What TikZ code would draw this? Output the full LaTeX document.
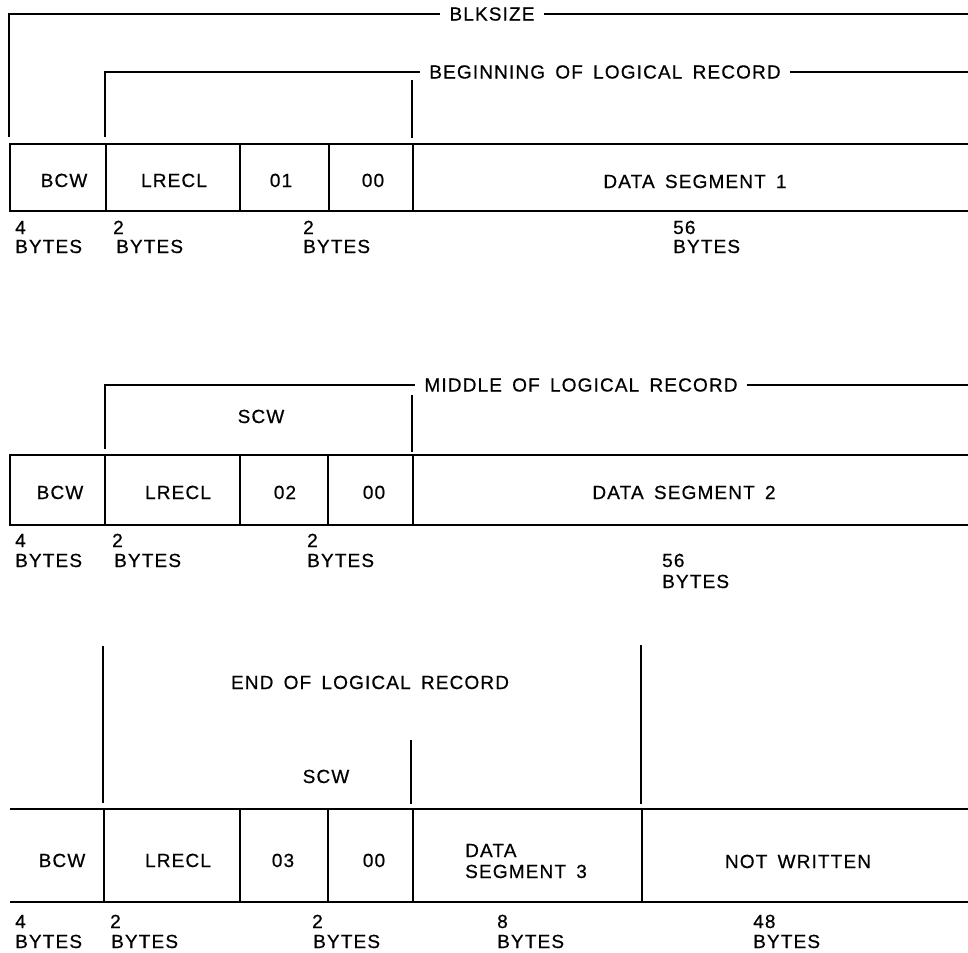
\documentclass[tikz,border=0pt]{standalone}
\usepackage{fontspec}
\setmainfont{Liberation Sans}[LetterSpace=6,WordSpace=1.6,FakeBold=0.6]
\newcommand{\labfont}{\fontsize{19}{22}\selectfont}
\begin{document}
\begin{tikzpicture}[x=1pt,y=-1pt]
\useasboundingbox (0,0) rectangle (968,952);
\tikzset{
  boxline/.style={line width=1.8pt},
  brk/.style={line width=1.5pt},
  txt/.style={font=\labfont, inner sep=0pt, anchor=base},
  txtl/.style={font=\labfont, inner sep=0pt, anchor=base west},
  head/.style={font=\labfont, inner ysep=0pt, inner xsep=9pt, anchor=center}
}
% ---------------- Row 1 ----------------
\node[head] (blk) at (492,14) {BLKSIZE};
\coordinate (blkL) at (9,137);
\coordinate (blkR) at (968,14);
\draw[brk] (blkL) |- (blk.west);
\draw[brk] (blk.east) -- (blkR);
\node[head] (beg) at (605,72) {BEGINNING OF LOGICAL RECORD};
\coordinate (begL) at (105,137);
\coordinate (begR) at (968,72);
\draw[brk] (begL) |- (beg.west);
\draw[brk] (beg.east) -- (begR);
\coordinate (begT1) at (412,80);
\coordinate (begT2) at (412,138);
\draw[brk] (begT1) -- (begT2);
\draw[boxline] (968,144) -- (10,144) -- (10,211) -- (968,211);
\foreach \x in {106,240,329,413} \draw[boxline] (\x,144) -- (\x,211);
\node[txt] (bcwA) at (64,187) {BCW};
\node[txt] (lreclA) at (174,187) {LRECL};
\node[txt] (oneA) at (281,187) {01};
\node[txt] (zeroA) at (373,187) {00};
\node[txt] (dataA) at (695,188) {DATA SEGMENT 1};
\node[txtl] (nA1) at (15,234) {4};
\node[txtl] (bA1) at (15,253) {BYTES};
\node[txtl] (nA2) at (113,234) {2};
\node[txtl] (bA2) at (116,253) {BYTES};
\node[txtl] (nA3) at (303,234) {2};
\node[txtl] (bA3) at (303,253) {BYTES};
\node[txtl] (nA4) at (673,234) {56};
\node[txtl] (bA4) at (673,253) {BYTES};
% ---------------- Row 2 ----------------
\node[head] (mid) at (581,385) {MIDDLE OF LOGICAL RECORD};
\coordinate (midL) at (105,449);
\coordinate (midR) at (968,385);
\draw[brk] (midL) |- (mid.west);
\draw[brk] (mid.east) -- (midR);
\coordinate (midT1) at (412,395);
\coordinate (midT2) at (412,452);
\draw[brk] (midT1) -- (midT2);
\node[txt] (scwB) at (261,423) {SCW};
\draw[boxline] (968,455) -- (10,455) -- (10,525) -- (968,525);
\foreach \x in {105,240,328,413} \draw[boxline] (\x,455) -- (\x,525);
\node[txt] (bcwB) at (60,499) {BCW};
\node[txt] (lreclB) at (178,499) {LRECL};
\node[txt] (twoB) at (285,499) {02};
\node[txt] (zeroB) at (374,499) {00};
\node[txt] (dataB) at (684,499) {DATA SEGMENT 2};
\node[txtl] (nB1) at (15,547) {4};
\node[txtl] (bB1) at (15,567) {BYTES};
\node[txtl] (nB2) at (112,547) {2};
\node[txtl] (bB2) at (114,567) {BYTES};
\node[txtl] (nB3) at (307,547) {2};
\node[txtl] (bB3) at (307,567) {BYTES};
\node[txtl] (nB4) at (662,567) {56};
\node[txtl] (bB4) at (662,588) {BYTES};
% ---------------- Row 3 ----------------
\coordinate (eL1) at (103,646);
\coordinate (eL2) at (103,803);
\coordinate (eR1) at (641,645);
\coordinate (eR2) at (641,804);
\coordinate (eM1) at (411,740);
\coordinate (eM2) at (411,804);
\draw[brk] (eL1) -- (eL2);
\draw[brk] (eR1) -- (eR2);
\draw[brk] (eM1) -- (eM2);
\node[txt] (endC) at (370,689) {END OF LOGICAL RECORD};
\node[txt] (scwC) at (326,783) {SCW};
\draw[boxline] (10,809) -- (968,809);
\draw[boxline] (10,902) -- (968,902);
\foreach \x in {104,240,328,413,642} \draw[boxline] (\x,809) -- (\x,902);
\node[txt] (bcwC) at (62,867) {BCW};
\node[txt] (lreclC) at (178,867) {LRECL};
\node[txt] (threeC) at (283,867) {03};
\node[txt] (zeroC) at (374,867) {00};
\node[txtl] (dataC1) at (465,857) {DATA};
\node[txtl] (dataC2) at (465,878) {SEGMENT 3};
\node[txt] (notC) at (798,868) {NOT WRITTEN};
\node[txtl] (nC1) at (15,928) {4};
\node[txtl] (bC1) at (15,948) {BYTES};
\node[txtl] (nC2) at (110,928) {2};
\node[txtl] (bC2) at (111,948) {BYTES};
\node[txtl] (nC3) at (312,928) {2};
\node[txtl] (bC3) at (313,948) {BYTES};
\node[txtl] (nC4) at (497,928) {8};
\node[txtl] (bC4) at (497,948) {BYTES};
\node[txtl] (nC5) at (753,928) {48};
\node[txtl] (bC5) at (753,948) {BYTES};
\end{tikzpicture}
\end{document}
